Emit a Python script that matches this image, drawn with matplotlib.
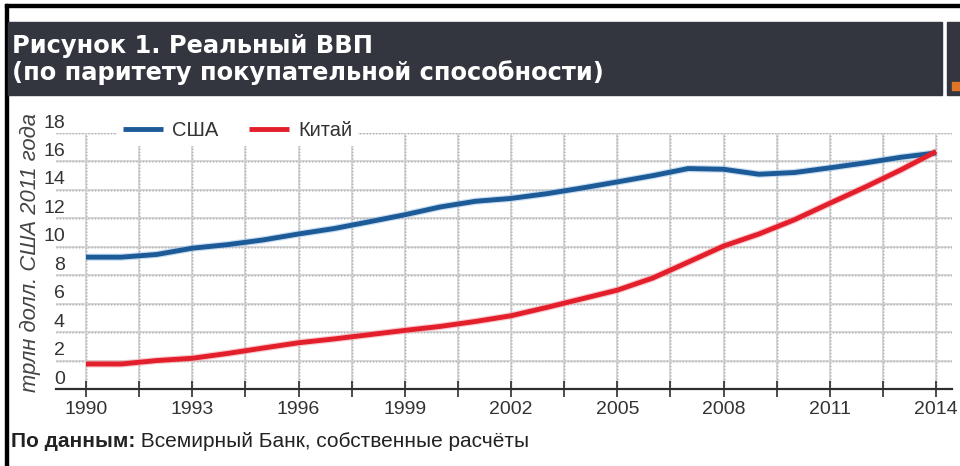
import numpy as np
import matplotlib.pyplot as plt
from matplotlib.patches import Rectangle
import matplotlib.transforms as mtransforms

plt.rcParams['font.family'] = ['Liberation Sans', 'DejaVu Sans']

# data (trillion 2011 USD, PPP)
years = list(range(1990, 2015))
usa = [9.27, 9.27, 9.46, 9.90, 10.15, 10.48, 10.90, 11.28, 11.76, 12.25,
       12.80, 13.20, 13.40, 13.73, 14.13, 14.56, 15.00, 15.50, 15.45, 15.10,
       15.22, 15.55, 15.90, 16.29, 16.60]
china = [1.76, 1.76, 2.00, 2.16, 2.50, 2.88, 3.25, 3.52, 3.82, 4.12,
         4.40, 4.75, 5.15, 5.73, 6.34, 6.95, 7.80, 8.92, 10.05, 10.90,
         11.90, 13.06, 14.20, 15.40, 16.70]
series_names = ['США', 'Китай']
year_ticks = list(range(1990, 2015, 3))
value_ticks = list(range(0, 19, 2))

title_lines = ['Рисунок 1. Реальный ВВП', '(по паритету покупательной способности)']
y_label = 'трлн долл. США 2011 года'
source_bold = 'По данным:'
source_text = ' Всемирный Банк, собственные расчёты'

W, H = 960, 466
TXT = '#333333'
BLUE = '#1d5a98'
RED = '#e41f2c'

fig = plt.figure(figsize=(W / 100, H / 100), dpi=100)

# page frame + title bar
fig.add_artist(Rectangle((5 / W, 0), 3 / W, (H - 4) / H, color='black',
                         transform=fig.transFigure))
fig.add_artist(Rectangle((5 / W, 1 - 6.5 / H), (W - 5) / W, 2.5 / H, color='black',
                         transform=fig.transFigure))
fig.add_artist(Rectangle((8 / W, 1 - 95 / H), 934 / W, 73 / H, color='#33363e',
                         transform=fig.transFigure))
fig.add_artist(Rectangle((947 / W, 1 - 95 / H), 13 / W, 73 / H, color='#33363e',
                         transform=fig.transFigure))
fig.add_artist(Rectangle((952 / W, 1 - 90 / H), 8 / W, 8 / H, color='#e07428',
                         transform=fig.transFigure))

fig.text(12 / W, 1 - 53 / H, title_lines[0], color='white', fontsize=17.4,
         fontweight='bold', family='DejaVu Sans', va='baseline')
fig.text(12 / W, 1 - 80 / H, title_lines[1], color='white', fontsize=17.4,
         fontweight='bold', family='DejaVu Sans', va='baseline')

ax = fig.add_axes([56 / W, 77 / H, 896 / W, 256 / H])
ax.set_xlim(1990 - 30 / 35.42, 1990 + 866 / 35.42)
ax.set_ylim(0, 18)

ax.set_xticks(year_ticks)
ax.set_xticks([y + 1.5 for y in year_ticks[:-1]], minor=True)
ax.set_yticks(value_ticks)

# grid: light solid underlay + dark dots on top
ax.grid(which='both', color='#d2d2d2', lw=1.2, ls='-', zorder=0)
for v in value_ticks[1:]:
    ax.axhline(v, color='#333333', lw=1.0, ls=(0, (1, 1.3)), zorder=1)
for x in list(ax.get_xticks()) + list(ax.get_xticks(minor=True)):
    ax.axvline(x, color='#333333', lw=1.0, ls=(0, (1, 1.3)), zorder=1)

for spine in ['left', 'top', 'right']:
    ax.spines[spine].set_visible(False)
ax.spines['bottom'].set_color('#2e2e2e')
ax.spines['bottom'].set_linewidth(1.6)
ax.spines['bottom'].set_zorder(3)

ax.tick_params(axis='x', which='both', direction='inout', length=12, width=1.2,
               color='#2e2e2e', labelsize=14, labelcolor=TXT, pad=3)
ax.tick_params(axis='y', length=0, labelsize=14, labelcolor=TXT, pad=0)
shift = mtransforms.ScaledTranslation(0.09, 0.10, fig.dpi_scale_trans)
for lab in ax.get_yticklabels():
    lab.set_transform(lab.get_transform() + shift)
    lab.set_verticalalignment('center')

ax.set_ylabel(y_label, fontsize=15.8, style='italic', color='#444444')
ax.yaxis.set_label_coords(-0.017, 0.535)

# lines with a soft halo
ax.plot(years, usa, color='#9cc3e6', lw=5.2, alpha=0.55, zorder=4, solid_capstyle='butt')
ax.plot(years, usa, color=BLUE, lw=3.5, zorder=5, label=series_names[0],
        solid_capstyle='butt')
ax.plot(years, china, color='#f4a0a6', lw=5.2, alpha=0.55, zorder=4, solid_capstyle='butt')
ax.plot(years, china, color=RED, lw=3.5, zorder=5, label=series_names[1],
        solid_capstyle='butt')

leg = ax.legend(loc='center left', bbox_to_anchor=((117 - 56) / 896, 1.008), ncol=2,
                frameon=True, fontsize=14.5, handlelength=2.0, handletextpad=0.45,
                columnspacing=1.5, borderpad=0.3, borderaxespad=0, fancybox=False)
leg.get_frame().set_facecolor('white')
leg.get_frame().set_edgecolor('none')
leg.get_frame().set_alpha(1)
leg.set_zorder(6)
for t in leg.get_texts():
    t.set_color(TXT)

# source line
fig.canvas.draw()
r = fig.canvas.get_renderer()
t1 = fig.text(11 / W, 1 - 447 / H, source_bold, fontsize=15, fontweight='bold',
              color='#222222', va='baseline')
bb = t1.get_window_extent(renderer=r)
fig.text(bb.x1 / W, 1 - 447 / H, source_text, fontsize=15, color='#222222',
         va='baseline')

fig.savefig('out.png', dpi=100)
